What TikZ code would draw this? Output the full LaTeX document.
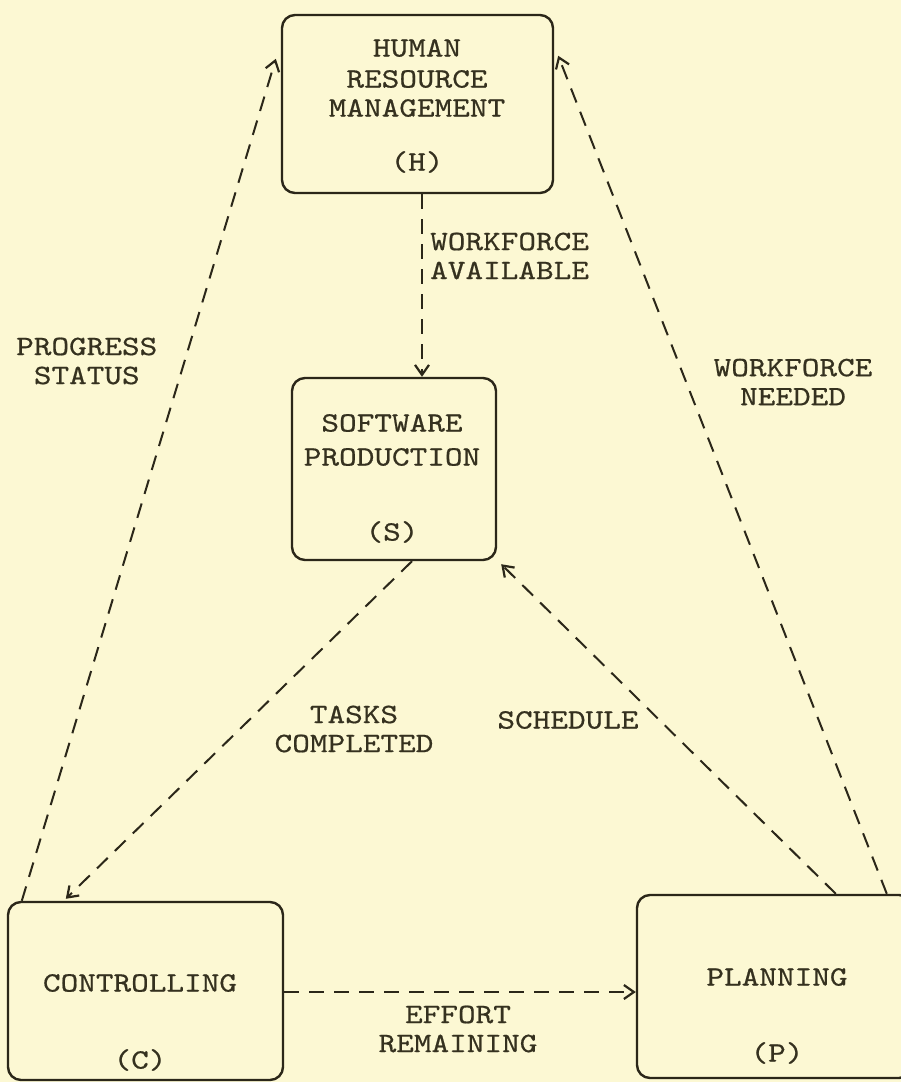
\documentclass[tikz,border=0pt]{standalone}
\usepackage{fontspec}
\newfontfamily\tyfont{lmmono10-regular}[Extension=.otf,FakeStretch=1.2,FakeBold=0.6]
\usetikzlibrary{arrows.meta,calc}
\definecolor{paper}{HTML}{FCF8D3}
\definecolor{ink}{HTML}{2B2719}
\definecolor{txt}{HTML}{35311F}
\tikzset{
  box/.style={draw=ink,line width=2.4pt,rounded corners=13pt,inner sep=0pt},
  lbl/.style={text=txt,font=\tyfont\fontsize{28}{29}\selectfont,align=center,inner sep=0pt},
  lbll/.style={lbl,align=left},
  flow/.style={draw=ink,line width=2pt,dash pattern=on 15pt off 10pt,-{Straight Barb[length=10pt,width=14pt,line width=2.2pt]}},
}
\begin{document}
\begin{tikzpicture}[x=1pt,y=-1pt]
\fill[paper] (0,0) rectangle (901,1082);
\useasboundingbox (0,0) rectangle (901,1082);
\clip (0,0) rectangle (901,1082);
% boxes
\node[box,minimum width=271pt,minimum height=178pt] (H) at (417.5,104) {};
\node[box,minimum width=204pt,minimum height=182pt] (S) at (394,469) {};
\node[box,minimum width=275pt,minimum height=178pt] (C) at (145.5,991) {};
\node[box,minimum width=275pt,minimum height=183pt] (P) at (774.5,986.5) {};
% box texts
\node[lbl] (h1) at (417,48) {HUMAN};
\node[lbl] (h2) at (417,79) {RESOURCE};
\node[lbl] (h3) at (417,108) {MANAGEMENT};
\node[lbl] (h4) at (417,162) {(H)};
\node[lbl] (s1) at (392,423) {SOFTWARE};
\node[lbl] (s2) at (392,457) {PRODUCTION};
\node[lbl] (s3) at (392,532) {(S)};
\node[lbl] (c1) at (140,983) {CONTROLLING};
\node[lbl] (c2) at (140,1060) {(C)};
\node[lbl] (p1) at (777,977) {PLANNING};
\node[lbl] (p2) at (777,1053) {(P)};
% connectors
\draw[flow] ([xshift=4.5pt]H.south) -- ([xshift=28pt]S.north);
\draw[flow] ([xshift=15pt]C.north west) -- ([xshift=-5pt,yshift=-45pt]H.north west);
\draw[flow] ([xshift=251pt]P.north west) -- ([xshift=4pt,yshift=-42pt]H.north east);
\draw[flow] ([xshift=18pt]S.south) -- ([xshift=59pt,yshift=2pt]C.north west);
\draw[flow] ([xshift=200pt]P.north west) -- ([xshift=4pt,yshift=-3pt]S.south east);
\draw[flow] ([yshift=-1pt]C.east) -- ([yshift=-1pt]C.east -| P.west);
% connector labels
\node[lbll,anchor=west] (wa) at (430,256) {WORKFORCE\\AVAILABLE};
\node[lbll,anchor=west] (ps) at (16,361) {PROGRESS\\\ STATUS};
\node[lbl] (wn) at (793,382) {WORKFORCE\\NEEDED};
\node[lbl] (tc) at (354,729) {TASKS\\COMPLETED};
\node[lbl] (sc) at (568,720) {SCHEDULE};
\node[lbl] (er) at (458,1029) {EFFORT\\REMAINING};
\end{tikzpicture}
\end{document}
